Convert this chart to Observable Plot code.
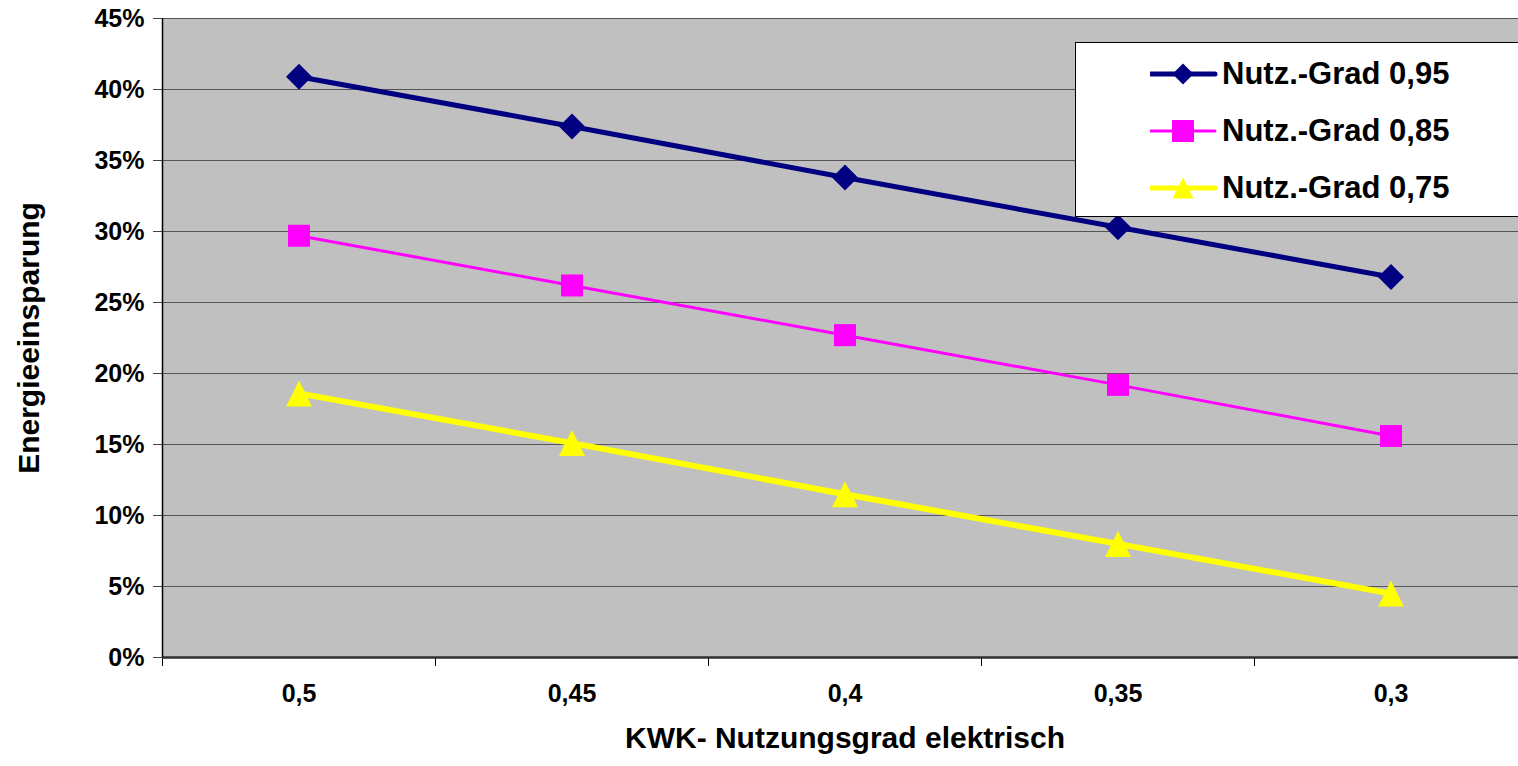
<!DOCTYPE html>
<html>
<head>
<meta charset="utf-8">
<script src="https://cdn.jsdelivr.net/npm/d3@7"></script>
<script src="https://cdn.jsdelivr.net/npm/@observablehq/plot@0.6"></script>
<style>
  html, body { margin: 0; padding: 0; background: white; overflow: hidden; }
  #wrap { position: relative; width: 1518px; height: 766px; overflow: hidden; font-family: "Liberation Sans", Arial, sans-serif; }
  #legend { position: absolute; left: 1075px; top: 42px; width: 470px; height: 175px; background: white; border: 1px solid black; box-sizing: border-box; }
  .row { position: absolute; left: 0; height: 40px; }
  .row svg { position: absolute; left: 74px; top: 5px; }
  .row span { position: absolute; left: 146px; top: 3px; font-size: 31px; font-weight: bold; white-space: nowrap; color: black; line-height: 34px; }
</style>
</head>
<body>
<div id="wrap"></div>
<script>
// ---- data ----
const categories = ["0,5", "0,45", "0,4", "0,35", "0,3"];
const seriesNames = ["Nutz.-Grad 0,95", "Nutz.-Grad 0,85", "Nutz.-Grad 0,75"];
const values095 = [0.409, 0.374, 0.338, 0.303, 0.268];
const values085 = [0.297, 0.262, 0.227, 0.192, 0.156];
const values075 = [0.186, 0.151, 0.115, 0.080, 0.045];
const yTicks = [0, 0.05, 0.10, 0.15, 0.20, 0.25, 0.30, 0.35, 0.40, 0.45];
const xTitle = "KWK- Nutzungsgrad elektrisch";
const yTitle = "Energieeinsparung";

const colors = ["#000080", "#FF00FF", "#FFFF00"];
const lineWidths = [5, 3, 6];

const diamondSym = { draw(ctx, size) { const h = Math.sqrt(size) / 2; ctx.moveTo(0, -h); ctx.lineTo(h, 0); ctx.lineTo(0, h); ctx.lineTo(-h, 0); ctx.closePath(); } };
const squareSym = { draw(ctx, size) { const h = Math.sqrt(size) / 2; ctx.rect(-h, -h, 2 * h, 2 * h); } };
const triangleSym = { draw(ctx, size) { const h = Math.sqrt(size) / 2; ctx.moveTo(0, -h); ctx.lineTo(h, h); ctx.lineTo(-h, h); ctx.closePath(); } };
const symbols = [diamondSym, squareSym, triangleSym];
const markerSides = [26, 22, 26];

const seriesValues = [values095, values085, values075];
const series = seriesValues.map((vals, s) => categories.map((c, i) => ({ i, c, s, v: vals[i] })));

const font = "Liberation Sans, Arial, sans-serif";

const marks = [
  Plot.frame({ fill: "#C0C0C0", stroke: null }),
  Plot.ruleY(yTicks.slice(1), { stroke: "#555555", strokeWidth: 1.2 }),
  Plot.axisY({ ticks: yTicks, tickFormat: d3.format(".0%"), tickSize: 9, tickPadding: 9, label: null, fontSize: 25, fontWeight: "bold", stroke: "#444", fill: "black" }),
  Plot.axisX({ ticks: [0, 1, 2, 3, 4, 5], tickSize: 9, tickFormat: () => "", label: null, stroke: "black" }),
  Plot.axisX({ ticks: [0.5, 1.5, 2.5, 3.5, 4.5], tickSize: 0, tickPadding: 27, tickFormat: d => categories[Math.floor(d)], label: null, fontSize: 25, fontWeight: "bold", fill: "black" }),
  Plot.ruleY([0], { stroke: "#303030", strokeWidth: 2.5 }),
  Plot.ruleX([0], { stroke: "black", strokeWidth: 1.5 }),
];
series.forEach((data, s) => {
  marks.push(Plot.line(data, { x: d => d.i + 0.5, y: "v", stroke: colors[s], strokeWidth: lineWidths[s] }));
});
series.forEach((data, s) => {
  marks.push(Plot.dot(data, { x: d => d.i + 0.5, y: "v", symbol: symbols[s], r: markerSides[s] / Math.sqrt(Math.PI), fill: colors[s], stroke: "none" }));
});
marks.push(Plot.text([xTitle], { text: d => d, x: 2.5, frameAnchor: "bottom", dy: 90, fontSize: 30, fontWeight: "bold", fill: "black" }));
marks.push(Plot.text([yTitle], { text: d => d, y: 0.225, frameAnchor: "left", textAnchor: "middle", dx: -133, rotate: -90, fontSize: 30, fontWeight: "bold", fill: "black" }));

const chart = Plot.plot({
  width: 1518,
  height: 766,
  marginLeft: 162,
  marginRight: 0,
  marginTop: 18,
  marginBottom: 109,
  style: { fontFamily: font, background: "white", overflow: "hidden" },
  x: { type: "linear", domain: [0, 5], range: [162, 1527], axis: null },
  y: { type: "linear", domain: [0, 0.45], range: [657, 18], axis: null },
  marks
});
const wrap = document.getElementById("wrap");
wrap.appendChild(chart);

// ---- legend ----
const legend = document.createElement("div");
legend.id = "legend";
seriesNames.forEach((name, s) => {
  const row = document.createElement("div");
  row.className = "row";
  row.style.top = (11 + s * 57) + "px";
  const ns = "http://www.w3.org/2000/svg";
  const svg = document.createElementNS(ns, "svg");
  svg.setAttribute("width", "70");
  svg.setAttribute("height", "30");
  const line = document.createElementNS(ns, "line");
  line.setAttribute("x1", "1"); line.setAttribute("x2", "65");
  line.setAttribute("y1", "15"); line.setAttribute("y2", "15");
  line.setAttribute("stroke", colors[s]);
  line.setAttribute("stroke-width", String(lineWidths[s] === 3 ? 3 : 5));
  line.setAttribute("stroke-linecap", "round");
  svg.appendChild(line);
  const p = d3.path();
  const side = s === 1 ? 22 : 21;
  symbols[s].draw(p, side * side);
  const path = document.createElementNS(ns, "path");
  path.setAttribute("d", p.toString());
  path.setAttribute("transform", "translate(33,15)");
  path.setAttribute("fill", colors[s]);
  svg.appendChild(path);
  row.appendChild(svg);
  const span = document.createElement("span");
  span.textContent = name;
  row.appendChild(span);
  legend.appendChild(row);
});
wrap.appendChild(legend);
</script>
</body>
</html>
